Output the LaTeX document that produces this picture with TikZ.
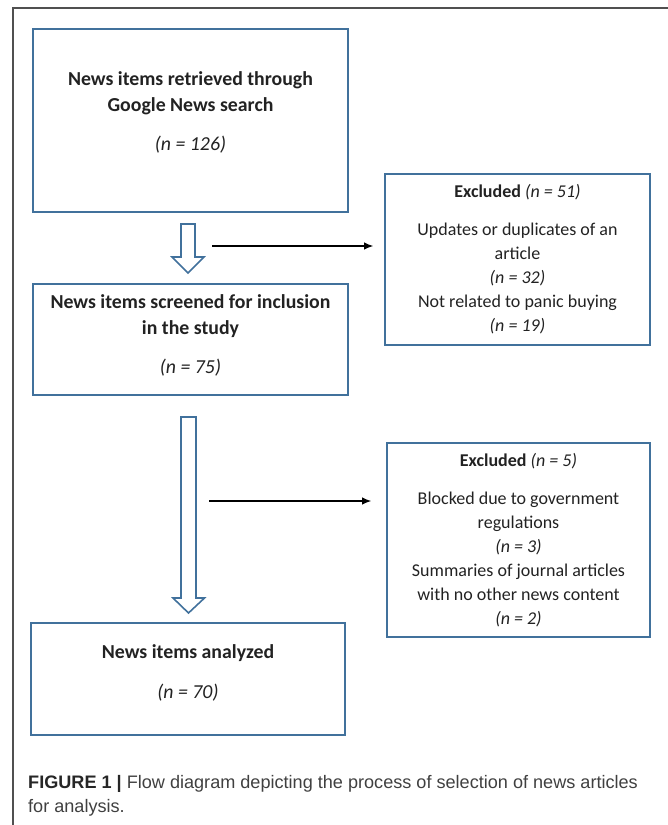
\documentclass[tikz,border=0pt]{standalone}
\usepackage{fontspec}
\setmainfont{Carlito}
\newfontfamily\capfont{Liberation Sans}
\usetikzlibrary{arrows.meta,positioning}

\definecolor{boxblue}{RGB}{65,113,156}
\definecolor{inkgray}{RGB}{34,34,34}
\definecolor{framegray}{RGB}{80,80,80}

\tikzset{
  flowbox/.style = {draw = boxblue, line width = 1.8pt, rectangle, inner sep = 0pt},
  boxtext/.style = {align = center, text = inkgray, inner sep = 0pt,
                    font = \fontsize{18}{24}\selectfont},
  mainboxtext/.style = {boxtext, font = \fontsize{19.8}{26}\selectfont},
  hollow/.style  = {draw = boxblue, line width = 1.6pt, fill = white, line join = miter},
  thinarrow/.style = {draw = black, line width = 1.1pt, -{Latex[length = 9pt, width = 7.5pt]}}
}

\begin{document}
\begin{tikzpicture}[x = 1pt, y = -1pt]
\useasboundingbox (0,0) rectangle (667,825);
% outer frame, only top and left visible
\draw[framegray, line width = 1.3pt] (13,830) -- (13,8) -- (672,8);

% main column
\node[flowbox, minimum width = 315pt, minimum height = 183pt] (retr) at (190.5,120.5) {};
\node[mainboxtext] (retrtxt) at ([yshift = 8pt]retr.center)
  {\textbf{News items retrieved through}\\\textbf{Google News search}\\[13pt]\textit{(n = 126)}};

\node[flowbox, minimum width = 315pt, minimum height = 111pt] (scrn) at (190.5,339.5) {};
\node[mainboxtext] (scrntxt) at ([yshift = 4pt]scrn.center)
  {\textbf{News items screened for inclusion}\\\textbf{in the study}\\[13pt]\textit{(n = 75)}};

\node[flowbox, minimum width = 314pt, minimum height = 112pt] (anlz) at (188,679) {};
\node[mainboxtext] (anlztxt) at ([yshift = 6pt]anlz.center)
  {\textbf{News items analyzed}\\[14pt]\textit{(n = 70)}};

% excluded boxes
\node[flowbox, minimum width = 265pt, minimum height = 171pt] (excl1) at (517.5,259.5) {};
\node[boxtext] (excl1txt) at (excl1.center)
  {\textbf{Excluded} \textit{(n = 51)}\\[14pt]Updates or duplicates of an\\article\\\textit{(n = 32)}\\Not related to panic buying\\\textit{(n = 19)}};

\node[flowbox, minimum width = 263pt, minimum height = 194pt] (excl2) at (518.5,540) {};
\node[boxtext] (excl2txt) at (excl2.center)
  {\textbf{Excluded} \textit{(n = 5)}\\[14pt]Blocked due to government\\regulations\\\textit{(n = 3)}\\Summaries of journal articles\\with no other news content\\\textit{(n = 2)}};

% hollow arrows
\coordinate (h1) at (188,224);
\draw[hollow] (h1) ++(-7,0) -- ++(0,33) -- ++(-9,0) -- (188,273) -- (204,257) -- ++(-9,0) -- ++(0,-33) -- cycle;
\coordinate (h2) at (188.5,417);
\draw[hollow] (h2) ++(-7.5,0) -- ++(0,181) -- ++(-8,0) -- (188.5,613) -- (204.5,598) -- ++(-8.5,0) -- ++(0,-181) -- cycle;

% side arrows
\coordinate (s1) at (212,246);
\draw[thinarrow, shorten > = 11pt] (s1) -- (s1 -| excl1.west);
\coordinate (s2) at (209,501);
\draw[thinarrow, shorten > = 15pt] (s2) -- (s2 -| excl2.west);

% caption
\node[anchor = north west, align = left, inner sep = 0pt, text = black!75,
      font = \capfont\fontsize{18.1}{24}\selectfont] (caption) at (28,775)
  {{\color{black!85}\textbf{FIGURE 1 |}} Flow diagram depicting the process of selection of news articles\\for analysis.};
\end{tikzpicture}
\end{document}
